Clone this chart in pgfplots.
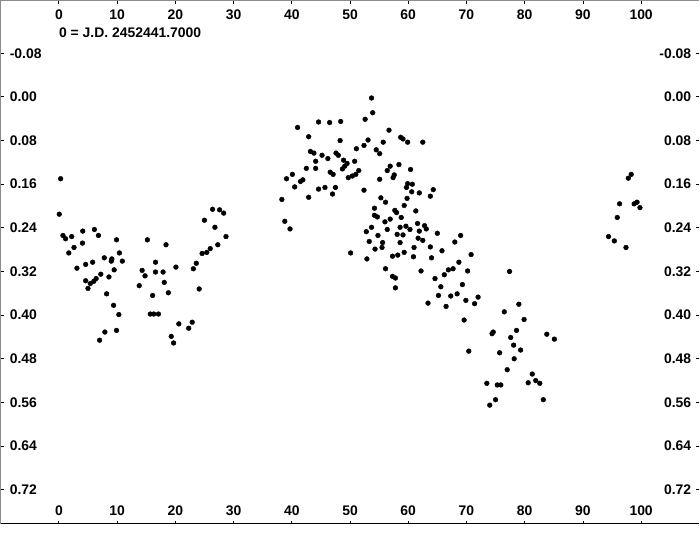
\documentclass[border=0pt]{standalone}
\usepackage{pgfplots}
\pgfplotsset{compat=1.18}
\usepackage{fontspec}
\setmainfont{Liberation Sans}
\newcommand{\lblfont}{\fontsize{14}{16}\selectfont\bfseries}
\begin{document}
\begin{tikzpicture}
\pgfplotsset{
  common/.style={
    width=700bp, height=524bp, scale only axis,
    xmin=-10, xmax=110,
    ymin=-0.1765, ymax=0.7822, y dir=reverse,
    xtick={0,10,...,100},
    ytick={-0.08,0,0.08,0.16,0.24,0.32,0.40,0.48,0.56,0.64,0.72},
    /pgf/number format/assume math mode=true,
    ticklabel style={font=\lblfont, inner sep=0pt},
    yticklabel style={/pgf/number format/fixed, /pgf/number format/fixed zerofill, /pgf/number format/precision=2},
    xticklabel style={/pgf/number format/fixed},
    clip=false,
  }
}
\begin{axis}[common,
  axis line style={draw=none},
  tick style={black, line width=0.8bp},
  major tick length=3bp, tick align=inside,
  xtick pos=both, ytick pos=both,
  xticklabel pos=left, yticklabel pos=left,
  xticklabel style={anchor=base, yshift=8bp},
  yticklabel style={anchor=west, xshift=9bp},
]
\addplot[only marks, mark=*, mark size=2.4bp, black] table {
x y
0.3 0.150
0.07 0.215
0.7 0.254
1.15 0.260
2.2 0.256
1.7 0.286
2.6 0.276
4.1 0.246
4.05 0.268
3.1 0.314
4.6 0.307
5.8 0.303
6.1 0.243
6.8 0.254
4.6 0.337
5.4 0.342
5.0 0.351
6.4 0.333
6.0 0.338
7.2 0.325
7.8 0.295
9.1 0.297
9.0 0.301
9.9 0.262
10.4 0.286
10.9 0.301
9.5 0.317
8.6 0.330
8.2 0.361
9.4 0.382
10.3 0.399
7.9 0.431
7.0 0.446
9.9 0.428
15.2 0.262
14.3 0.318
14.8 0.328
13.8 0.346
16.6 0.303
16.6 0.321
16.1 0.364
15.7 0.398
16.3 0.398
17.1 0.398
17.9 0.321
18.4 0.271
18.1 0.340
18.8 0.359
20.1 0.312
20.6 0.416
19.3 0.439
19.7 0.451
22.3 0.424
22.9 0.413
23.1 0.315
23.6 0.305
24.1 0.352
24.6 0.287
25.4 0.285
26.0 0.278
25.0 0.226
26.4 0.206
26.8 0.239
27.6 0.207
28.3 0.213
27.3 0.271
28.7 0.256
53.7 0.002
53.9 0.029
52.6 0.041
44.6 0.046
46.5 0.047
48.4 0.045
41.0 0.056
56.7 0.061
42.9 0.073
48.3 0.080
58.7 0.074
59.1 0.077
59.9 0.083
62.5 0.083
53.1 0.079
52.4 0.089
55.7 0.083
51.1 0.095
54.5 0.097
55.1 0.104
43.2 0.100
43.8 0.103
45.2 0.107
46.2 0.113
47.6 0.103
48.0 0.107
44.1 0.118
48.9 0.116
49.5 0.122
50.8 0.118
42.5 0.131
44.1 0.131
49.1 0.127
48.7 0.132
46.6 0.138
47.1 0.142
51.5 0.135
51.0 0.142
50.4 0.145
49.7 0.148
56.9 0.127
56.4 0.135
58.4 0.124
60.4 0.133
57.6 0.143
57.4 0.148
55.1 0.151
40.1 0.142
39.1 0.150
40.5 0.165
41.5 0.155
41.9 0.152
42.9 0.184
44.6 0.169
45.7 0.166
47.0 0.178
47.5 0.166
52.4 0.171
38.3 0.188
38.8 0.228
39.7 0.242
59.9 0.159
60.7 0.160
59.7 0.166
60.6 0.174
61.9 0.176
64.3 0.170
63.8 0.182
55.3 0.185
56.1 0.193
54.2 0.204
57.7 0.208
58.0 0.212
59.8 0.186
59.3 0.199
61.3 0.209
54.2 0.217
54.7 0.220
56.0 0.229
56.9 0.224
58.8 0.221
53.7 0.239
52.8 0.247
54.8 0.254
56.4 0.243
58.1 0.252
59.1 0.253
58.6 0.239
59.6 0.237
60.3 0.243
61.6 0.232
62.8 0.236
63.1 0.242
61.7 0.259
62.5 0.263
61.9 0.246
65.0 0.250
53.3 0.265
55.6 0.267
55.5 0.276
54.3 0.279
58.6 0.267
61.0 0.276
63.8 0.275
65.8 0.282
68.0 0.266
69.0 0.254
57.3 0.292
58.2 0.290
59.3 0.285
60.9 0.293
64.0 0.295
50.1 0.286
52.9 0.297
68.7 0.303
56.1 0.315
62.2 0.319
57.3 0.329
57.8 0.332
66.2 0.326
66.9 0.317
67.7 0.315
64.6 0.333
70.2 0.319
70.8 0.289
72.0 0.367
71.4 0.379
65.2 0.364
67.3 0.365
68.4 0.361
69.9 0.373
63.4 0.378
66.5 0.384
65.6 0.348
69.3 0.344
57.8 0.350
77.4 0.320
76.5 0.394
79.0 0.380
69.6 0.409
79.9 0.408
78.6 0.428
74.4 0.434
74.6 0.431
77.6 0.441
83.8 0.435
85.1 0.444
78.1 0.455
79.3 0.464
70.4 0.466
75.7 0.469
78.2 0.480
77.0 0.500
81.3 0.508
80.6 0.524
81.9 0.520
82.6 0.525
73.5 0.525
75.3 0.528
75.9 0.528
75.0 0.555
74.0 0.565
83.2 0.555
98.3 0.142
97.8 0.149
96.3 0.196
98.8 0.196
99.3 0.193
99.8 0.203
95.9 0.221
94.4 0.256
95.4 0.264
97.4 0.276
};
\node[anchor=base west, inner sep=0pt, font=\lblfont] at (axis cs:0,-0.108) {0 = J.D. 2452441.7000};
\draw[black!45, line width=1.2bp] (rel axis cs:0,0) -- (rel axis cs:0,1) -- (rel axis cs:1,1);
\draw[black, line width=1.3bp] (rel axis cs:0,0) -- (rel axis cs:1,0);
\end{axis}
\begin{axis}[common,
  axis line style={draw=none},
  major tick length=0pt,
  xticklabel pos=right, yticklabel pos=right,
  xticklabel style={anchor=base, yshift=-19bp},
  yticklabel style={anchor=east, xshift=-8bp},
]
\addplot[draw=none] coordinates {(0,0)};
\end{axis}
\path[use as bounding box] (0,-24bp) rectangle (700bp,524bp);
\end{tikzpicture}
\end{document}
